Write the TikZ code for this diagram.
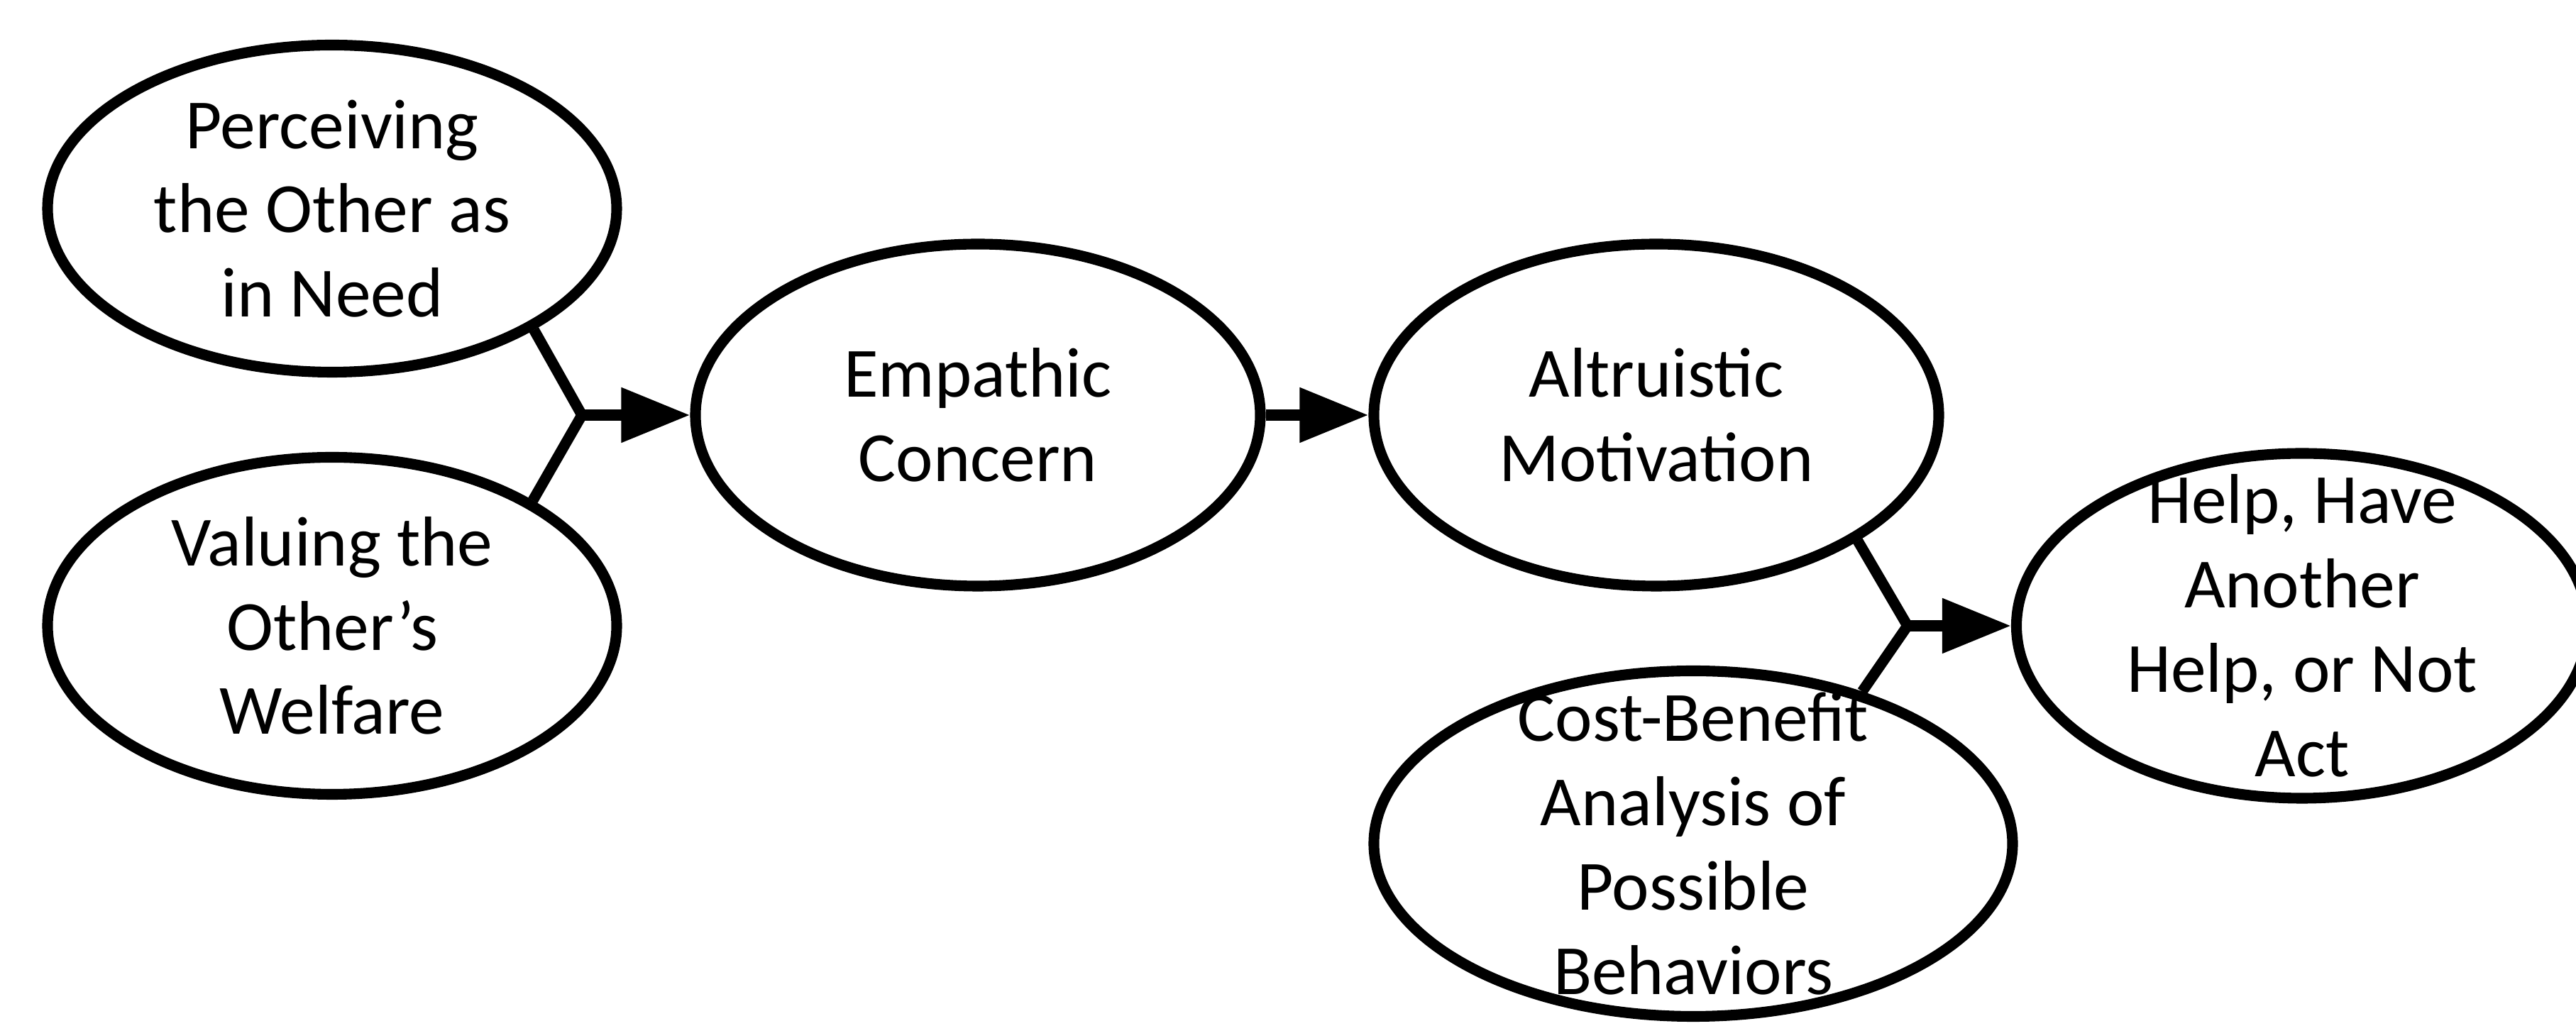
\documentclass[tikz,border=0pt]{standalone}
\usepackage{fontspec}
\setmainfont{Carlito}
\usetikzlibrary{shapes.geometric,arrows.meta}

\tikzset{
	stage/.style={ellipse, draw, line width=4.3pt, inner sep=0pt},
	words/.style={align=center, inner sep=0pt, font=\fontsize{28.3}{33.8}\selectfont},
	link/.style={line width=4.3pt},
	flow/.style={line width=4.3pt, -{Triangle[length=0.97cm,width=0.74cm]}}
}

\begin{document}
\begin{tikzpicture}
	\useasboundingbox (0,0) rectangle (36.3,14.46);

	% Left inputs
	\node[stage, minimum width=8.02cm, minimum height=4.61cm,
		label={[words]center:Perceiving\\the Other as\\in Need}] (perc) at (4.68,11.52) {};
	\node[stage, minimum width=8.02cm, minimum height=4.75cm,
		label={[words]center:Valuing the\\Other’s\\Welfare}] (val) at (4.68,5.64) {};

	% Middle chain
	\node[stage, minimum width=7.96cm, minimum height=4.82cm,
		label={[words]center:Empathic\\Concern}] (emp) at (13.78,8.61) {};
	\node[stage, minimum width=7.96cm, minimum height=4.82cm,
		label={[words]center:Altruistic\\Motivation}] (alt) at (23.34,8.61) {};

	% Right side
	\node[stage, minimum width=8.05cm, minimum height=4.86cm,
		label={[words]center:Help, Have\\Another\\Help, or Not\\Act}] (help) at (32.44,5.64) {};
	\node[stage, minimum width=9.00cm, minimum height=4.87cm,
		label={[words]center:Cost-Benefit\\Analysis of\\Possible\\Behaviors}] (cost) at (23.86,2.57) {};

	% Junctions
	\coordinate (j1) at (8.20,8.61);
	\coordinate (j2) at (26.88,5.64);

	% Connectors
	\draw[link] (perc.-31) -- (j1) -- (val.32);
	\draw[flow] (j1) -- (emp);
	\draw[flow] (emp) -- (alt);
	\draw[link] (alt.-32) -- (j2) -- (cost.42);
	\draw[flow] (j2) -- (help);

\end{tikzpicture}
\end{document}
